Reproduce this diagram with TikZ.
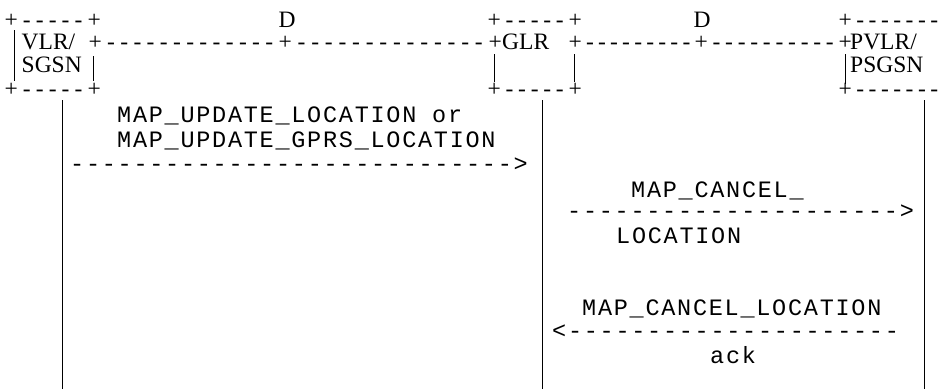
\documentclass[tikz,border=0pt]{standalone}
\usepackage{fontspec}
\newfontfamily\seriff{Liberation Serif}
\newfontfamily\monof[Ligatures=TeXOff,LetterSpace=7.4]{Liberation Mono}
% plus-dash runs: glyph boxes spread evenly between the outer "+" signs
\newcommand\prun[1]{+\foreach \k in {1,...,#1}{\hfil-}\hfil+}
\newcommand\pruntail[1]{\foreach \k in {1,...,#1}{\hfil-}\hfil+}
\newcommand\prunopen[1]{+\foreach \k in {1,...,#1}{\hfil-}}
\newcommand\hp{6.63}% half width of "+"
% full run from + centre c1 to + centre c2
\newcommand\plusrow[5]{\node[serif] (#1) at ({#2-\hp},#5) {\hbox to \dimexpr #3pt-#2pt+2\dimexpr\hp pt\relax\relax{\prun{#4}}};}
% run continuing after a + at c1, ending with + at c2
\newcommand\plustail[5]{\node[serif] (#1) at ({#2+\hp},#5) {\hbox to \dimexpr #3pt-#2pt\relax{\pruntail{#4}}};}
% run from + at c1 to the picture edge x2
\newcommand\plusopen[5]{\node[serif] (#1) at ({#2-\hp},#5) {\hbox to \dimexpr #3pt-#2pt+\hp pt\relax{\prunopen{#4}}};}
\tikzset{
  serif/.style={font=\fontsize{23.5}{27}\selectfont\seriff, inner sep=0pt, anchor=base west},
  mono/.style={font=\fontsize{23.5}{27}\selectfont\monof, inner sep=0pt, anchor=base west,
    text height=15pt, text depth=4pt},
  bar/.style={line width=1pt},
  life/.style={line width=1pt},
}
\begin{document}
\begin{tikzpicture}[x=1pt,y=-1pt]
\fill[white] (0,0) rectangle (938,389);
\useasboundingbox (0,0) rectangle (938,389);
% row 1
\plusrow{vtop}{11}{94}{5}{27}
\node[serif, anchor=base] (d1) at (287,27) {D};
\plusrow{gtop}{494}{575}{5}{27}
\node[serif, anchor=base] (d2) at (702,27) {D};
\plusopen{ptop}{845}{938}{7}{27}
% row 2
\node[serif] (vlr) at (21.5,49) {VLR/};
\plusrow{la}{95}{285}{13}{49}
\plustail{lb}{285}{495}{14}{49}
\node[serif] (glr) at (502,49) {GLR};
\plusrow{lc}{575}{701}{9}{49}
\plustail{ld}{701}{845}{10}{49}
\node[serif] (pvlr) at (850,49) {PVLR/};
% row 3
\node[serif] (sgsn) at (21.5,72) {SGSN};
\node[serif] (psgsn) at (850,72) {PSGSN};
% row 4
\plusrow{vbot}{11}{94}{5}{96}
\plusrow{gbot}{494}{575}{5}{96}
\plusopen{pbot}{845}{938}{7}{96}
% box bars
\coordinate (b1a) at (14,30); \coordinate (b1b) at (14,81);
\coordinate (b2a) at (93,56); \coordinate (b2b) at (93,81);
\coordinate (b3a) at (494,54); \coordinate (b3b) at (494,82);
\coordinate (b4a) at (574,54); \coordinate (b4b) at (574,82);
\coordinate (b5a) at (845,54); \coordinate (b5b) at (845,84);
\draw[bar] (b1a) -- (b1b);
\draw[bar] (b2a) -- (b2b);
\draw[bar] (b3a) -- (b3b);
\draw[bar] (b4a) -- (b4b);
\draw[bar] (b5a) -- (b5b);
% lifelines
\coordinate (vl1) at (62,100); \coordinate (vl2) at (62,389);
\coordinate (gl1) at (542,100); \coordinate (gl2) at (542,389);
\coordinate (pl1) at (924,100); \coordinate (pl2) at (924,389);
\draw[life] (vl1) -- (vl2);
\draw[life] (gl1) -- (gl2);
\draw[life] (pl1) -- (pl2);
% messages
\node[mono] (m1a) at (117,122) {MAP\_UPDATE\_LOCATION or};
\node[mono] (m1b) at (117,147) {MAP\_UPDATE\_GPRS\_LOCATION};
\node[mono] (m1arrow) at (70,171) {---------------------------->};
\node[mono] (m2a) at (631,197) {MAP\_CANCEL\_};
\node[mono] (m2arrow) at (567,218) {--------------------->};
\node[mono] (m2b) at (616,243) {LOCATION};
\node[mono] (m3a) at (582,315) {MAP\_CANCEL\_LOCATION};
\node[mono] (m3arrow) at (552,338) {<---------------------};
\node[mono] (m3b) at (710,363) {ack};
\end{tikzpicture}
\end{document}
